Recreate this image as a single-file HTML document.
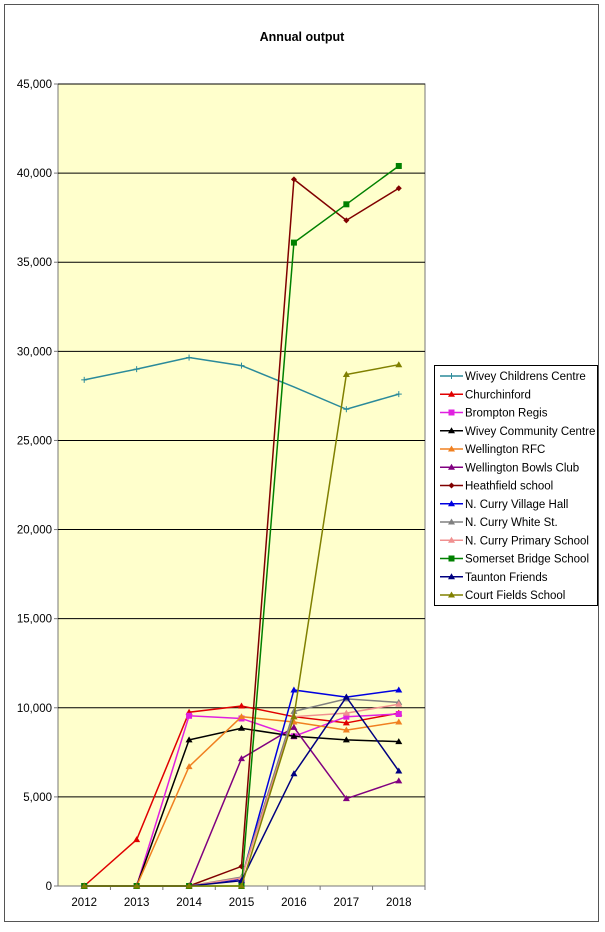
<!DOCTYPE html>
<html><head><meta charset="utf-8"><style>
body{margin:0;background:#fff;font-family:"Liberation Sans",Arial,sans-serif;}
</style></head><body>
<svg id="chart" width="605" height="927" xmlns="http://www.w3.org/2000/svg" font-family="Liberation Sans, Arial, sans-serif">
<rect x="4.5" y="4.5" width="594" height="917" fill="#fff" stroke="#555" stroke-width="1"/>
<text x="302" y="41" text-anchor="middle" font-size="12.5" font-weight="bold">Annual output</text>
<rect x="58" y="84" width="367" height="802" fill="#ffffcc" stroke="#777"/>
<g id="grid"></g><g id="series"></g>
<g id="legend"></g>
</svg>
<script>
const years=["2012","2013","2014","2015","2016","2017","2018"];
const yTicks=[0,5000,10000,15000,20000,25000,30000,35000,40000,45000];
const names=["Wivey Childrens Centre","Churchinford","Brompton Regis","Wivey Community Centre","Wellington RFC","Wellington Bowls Club","Heathfield school","N. Curry Village Hall","N. Curry White St.","N. Curry Primary School","Somerset Bridge School","Taunton Friends","Court Fields School"];
const colors=["#2a8a9a","#e00000","#e020e0","#000000","#f08020","#800080","#800000","#0000e0","#808080","#f09090","#008000","#000080","#808000"];
const markers=["plus","tri","square","tri","tri","tri","diamond","tri","tri","tri","square","tri","tri"];
const wiveyChildrens=[28400,29000,29650,29200,28000,26750,27600];
const churchinford=[0,2600,9750,10100,9500,9150,9700];
const bromptonRegis=[0,0,9550,9400,8400,9500,9650];
const wiveyCommunity=[0,0,8200,8850,8400,8200,8100];
const wellingtonRFC=[0,0,6700,9500,9200,8750,9200];
const wellingtonBowls=[0,0,0,7150,8900,4900,5900];
const heathfield=[0,0,0,1100,39650,37350,39150];
const nCurryVillage=[0,0,0,400,11000,10600,11000];
const nCurryWhite=[0,0,0,500,9800,10500,10300];
const nCurryPrimary=[0,0,0,450,9500,9700,10200];
const somersetBridge=[0,0,0,0,36100,38250,40400];
const tauntonFriends=[0,0,0,300,6300,10600,6450];
const courtFields=[0,0,0,0,9500,28700,29250];
const series=[wiveyChildrens,churchinford,bromptonRegis,wiveyCommunity,wellingtonRFC,wellingtonBowls,heathfield,nCurryVillage,nCurryWhite,nCurryPrimary,somersetBridge,tauntonFriends,courtFields];
const NS="http://www.w3.org/2000/svg";
const L=58,R=425,T=84,B=886;
const xs=i=>L+(R-L)/years.length*(i+0.5);
const ys=v=>B-(B-T)*v/45000;
function mk(tag,attrs,parent){const e=document.createElementNS(NS,tag);for(const k in attrs)e.setAttribute(k,attrs[k]);parent.appendChild(e);return e;}
const grid=document.getElementById('grid');
yTicks.forEach(v=>{
 const y=ys(v);
 if(v>0){const g=mk('line',{x1:L,x2:R,y1:y,y2:y,stroke:'#000','stroke-width':1},grid);
 
 }
 mk('line',{x1:L-4,x2:L,y1:y,y2:y,stroke:'#777'},grid);
 const t=mk('text',{x:L-6,y:y+4,'text-anchor':'end','font-size':11.5},grid);
 
 
 t.textContent=v.toLocaleString('en-US');
});
years.forEach((yr,i)=>{
 const xb=L+(R-L)/years.length*(i+1);
 mk('line',{x1:xb,x2:xb,y1:B,y2:B+4,stroke:'#777'},grid);
 const t=mk('text',{x:xs(i),y:B+20,'text-anchor':'middle','font-size':11.5},grid);
 
 
 t.textContent=yr;
});
function marker(p,type,x,y,c){
 if(type==='tri')mk('polygon',{points:`${x},${y-3.5} ${x-3.5},${y+2.5} ${x+3.5},${y+2.5}`,fill:c},p);
 else if(type==='square')mk('rect',{x:x-3,y:y-3,width:6,height:6,fill:c},p);
 else if(type==='diamond')mk('polygon',{points:`${x},${y-3} ${x+3},${y} ${x},${y+3} ${x-3},${y}`,fill:c},p);
 else{mk('line',{x1:x-3,x2:x+3,y1:y,y2:y,stroke:c},p);mk('line',{x1:x,x2:x,y1:y-3,y2:y+3,stroke:c},p);}
}
const sg=document.getElementById('series');
series.forEach((d,s)=>{
 const g=mk('g',{},sg);
 
 
 mk('polyline',{points:d.map((v,i)=>xs(i)+','+ys(v)).join(' '),fill:'none',stroke:colors[s],'stroke-width':1.5},g);
 d.forEach((v,i)=>{if(s===0&&i===4)return;marker(g,markers[s],xs(i),ys(v),colors[s]);});
});
const lg=document.getElementById('legend');
mk('rect',{x:434.5,y:365.5,width:163,height:240,fill:'#fff',stroke:'#000'},lg);
names.forEach((n,s)=>{
 const y=376+s*18.25;
 const e=mk('g',{},lg);
 
 
 mk('line',{x1:440,x2:463,y1:y,y2:y,stroke:colors[s],'stroke-width':1.5},e);
 marker(e,markers[s],451.5,y,colors[s]);
 const t=mk('text',{x:465,y:y+4,'font-size':11.5},e);
 t.textContent=n;
});
</script>
</body></html>
